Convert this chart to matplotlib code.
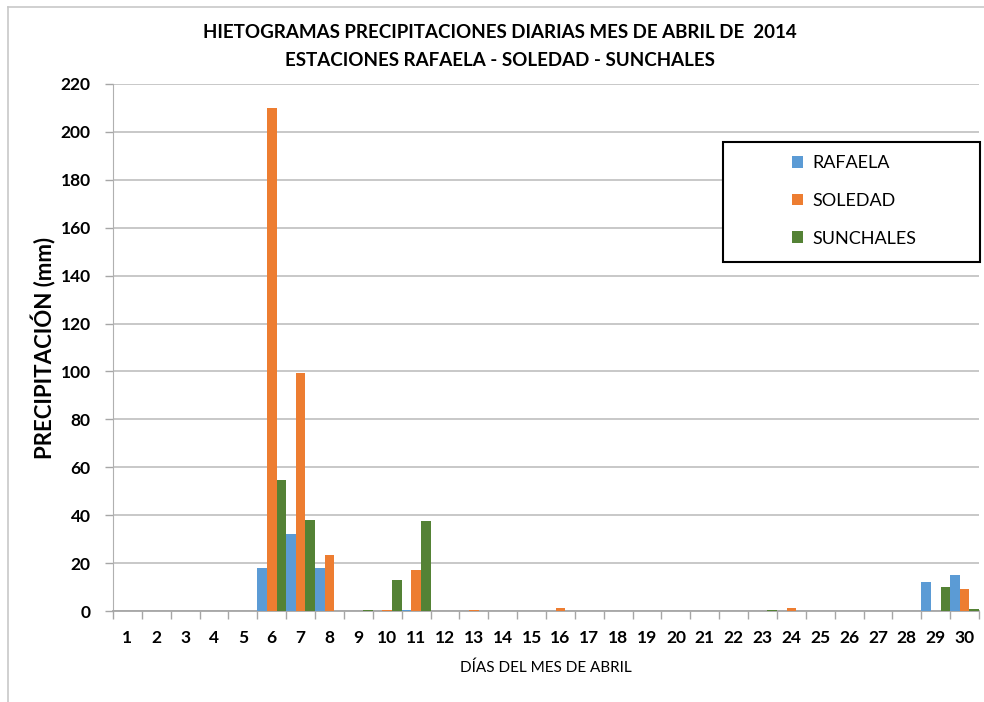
import matplotlib
matplotlib.use("Agg")
import matplotlib.pyplot as plt
import numpy as np
from matplotlib.patches import Patch, Rectangle
from matplotlib.lines import Line2D

# Daily precipitation (mm), April 2014
days = list(range(1, 31))
rafaela = [0, 0, 0, 0, 0, 18, 32, 18, 0, 0,
           0.5, 0, 0, 0, 0, 0, 0, 0, 0, 0,
           0, 0, 0, 0, 0, 0, 0, 0, 12, 15]
soledad = [0, 0, 0, 0, 0, 210, 99.5, 23.5, 0, 0.5,
           17, 0, 0.5, 0, 0, 1.2, 0, 0, 0, 0,
           0, 0, 0, 1.2, 0, 0, 0, 0, 0, 9]
sunchales = [0, 0, 0, 0, 0, 54.5, 38, 0, 0.5, 13,
             37.5, 0, 0, 0, 0, 0, 0, 0, 0, 0,
             0, 0, 0.5, 0, 0, 0, 0, 0, 10, 1]
series_names = ["RAFAELA", "SOLEDAD", "SUNCHALES"]
colors = ["#5B9BD5", "#ED7D31", "#548235"]
yticks = list(range(0, 221, 20))

body = ["Lato", "DejaVu Sans"]

fig = plt.figure(figsize=(9.84, 7.02), dpi=100)
ax = fig.add_axes([113 / 984, 1 - 611 / 702, (979 - 113) / 984, (611 - 84) / 702])

x = np.array(days, dtype=float)
w = 1 / 3
for k, (vals, c) in enumerate(zip([rafaela, soledad, sunchales], colors)):
    ax.bar(x + (k - 1) * w, vals, width=w, color=c, linewidth=0, zorder=3)

ax.set_xlim(0.5, 30.5)
ax.set_ylim(0, 220)
ax.set_yticks(yticks)
ax.set_yticklabels([str(v) for v in yticks], fontsize=12.5, fontweight="bold",
                   family=body)
ax.set_xticks(days)
ax.set_xticklabels([str(d) for d in days], fontsize=12.5, fontweight="bold",
                   family=body)
ax.set_xticks(np.arange(0.5, 31, 1), minor=True)
ax.tick_params(axis="x", which="major", length=0, pad=14)
ax.tick_params(axis="x", which="minor", length=6, color="#a6a6a6", width=1)
ax.tick_params(axis="y", length=6, color="#a6a6a6", width=1, pad=10)

ax.grid(axis="y", color="#c4c4c4", linewidth=1.3, zorder=0)
for s in ["top", "right"]:
    ax.spines[s].set_visible(False)
ax.spines["left"].set_color("#b0b0b0")
ax.spines["bottom"].set_color("#a6a6a6")
ax.spines["bottom"].set_linewidth(1.3)

ax.set_ylabel("PRECIPITACIÓN (mm)", fontsize=16, fontweight="bold",
              family=body, labelpad=3)
ax.set_xlabel("DÍAS DEL MES DE ABRIL", fontsize=11, family=body, labelpad=10)

fig.text(0.508, 1 - 32 / 702, "HIETOGRAMAS PRECIPITACIONES DIARIAS MES DE ABRIL DE  2014",
         ha="center", va="center", fontsize=13.5, fontweight="bold", family=body)
fig.text(0.508, 1 - 60 / 702, "ESTACIONES RAFAELA - SOLEDAD - SUNCHALES",
         ha="center", va="center", fontsize=13.5, fontweight="bold", family=body)

# legend box
bx0 = (723 - 113) / 866
by0 = (611 - 262) / 527
ax.add_patch(Rectangle((bx0, by0), (980 - 723) / 866, (262 - 142) / 527,
                       transform=ax.transAxes, facecolor="white",
                       edgecolor="black", linewidth=1.5, zorder=5,
                       clip_on=False))
handles = [Patch(facecolor=c, edgecolor="none", label=n)
           for c, n in zip(colors, series_names)]
leg = ax.legend(handles=handles, loc="upper left",
                bbox_to_anchor=((776 - 113) / 866, (611 - 139) / 527),
                frameon=False, handlelength=0.6, handleheight=0.6,
                handletextpad=0.5, labelspacing=1.2,
                prop={"family": body, "size": 13})
leg.set_zorder(6)

# outer frame of the figure
fig.add_artist(Line2D([8 / 984, 8 / 984], [0, 1 - 7 / 702], color="#c8c8c8",
                      linewidth=1.2, transform=fig.transFigure))
fig.add_artist(Line2D([8 / 984, 1], [1 - 7 / 702, 1 - 7 / 702], color="#c8c8c8",
                      linewidth=1.2, transform=fig.transFigure))

fig.savefig("out.png", dpi=100, facecolor="white")
